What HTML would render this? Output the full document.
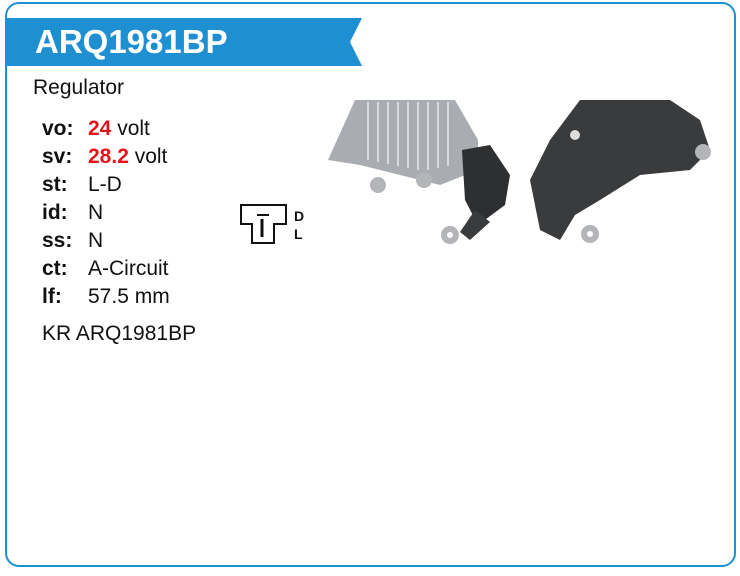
<!DOCTYPE html>
<html><head><style>
body{margin:0;background:#fff;width:740px;height:576px;position:relative;overflow:hidden;font-family:"Liberation Sans",sans-serif}
.frame{position:absolute;left:5px;top:2px;width:727px;height:561px;border:2px solid #1e8fd0;border-radius:14px}
.t{position:absolute;font-size:21px;color:#111}
.l{position:absolute;font-size:21px;font-weight:bold;color:#111;left:42px}
.v{position:absolute;font-size:21px;color:#111;left:88px}
.r{color:#e3141b;font-weight:bold}
</style></head><body>
<div class="frame"></div>
<svg style="position:absolute;left:0;top:0" width="740" height="576">
<polygon points="6,18 362,18 350,42 362,66 6,66" fill="#1e8fd0"/>
<text x="35" y="53" font-family="Liberation Sans" font-weight="bold" font-size="33" fill="#fff">ARQ1981BP</text>
<path d="M241,205 H286 V224 H274 V243 H252 V224 H241 Z" fill="none" stroke="#111" stroke-width="2"/>
<line x1="257" y1="215" x2="269" y2="215" stroke="#111" stroke-width="2"/>
<line x1="262" y1="219" x2="262" y2="237" stroke="#111" stroke-width="3"/>
<text x="294" y="221" font-family="Liberation Sans" font-weight="bold" font-size="14" fill="#111">D</text>
<text x="294" y="239" font-family="Liberation Sans" font-weight="bold" font-size="14" fill="#111">L</text>
<polygon points="355,100 455,100 478,140 478,170 440,185 400,175 360,165 328,160" fill="#a9acb0"/>
<g stroke="#d9dadb" stroke-width="2"><line x1="368" y1="102" x2="368" y2="160"/><line x1="378" y1="102" x2="378" y2="162"/><line x1="388" y1="102" x2="388" y2="164"/><line x1="398" y1="102" x2="398" y2="166"/><line x1="408" y1="102" x2="408" y2="168"/><line x1="418" y1="102" x2="418" y2="170"/><line x1="428" y1="102" x2="428" y2="170"/><line x1="438" y1="102" x2="438" y2="168"/><line x1="448" y1="102" x2="448" y2="166"/></g>
<polygon points="462,150 490,145 510,175 505,205 478,225 465,200" fill="#2e2f31"/>
<polygon points="475,210 490,222 470,240 460,232" fill="#3a3b3d"/>
<circle cx="450" cy="235" r="9" fill="#b3b5b8"/><circle cx="450" cy="235" r="3" fill="#fff"/>
<circle cx="378" cy="185" r="8" fill="#b3b5b8"/><circle cx="424" cy="180" r="8" fill="#b3b5b8"/>
<polygon points="580,100 670,100 700,120 710,150 690,170 640,175 600,200 575,215 560,240 540,230 530,180 550,140" fill="#3a3b3d"/>
<circle cx="575" cy="135" r="5" fill="#ddd"/>
<circle cx="590" cy="234" r="9" fill="#b3b5b8"/><circle cx="590" cy="234" r="3" fill="#fff"/>
<circle cx="703" cy="152" r="8" fill="#b3b5b8"/>
</svg>
<div class="t" style="left:33px;top:76px">Regulator</div>
<div class="l" style="top:117px">vo:</div><div class="v" style="top:117px"><span class="r">24</span> volt</div>
<div class="l" style="top:145px">sv:</div><div class="v" style="top:145px"><span class="r">28.2</span> volt</div>
<div class="l" style="top:173px">st:</div><div class="v" style="top:173px">L-D</div>
<div class="l" style="top:201px">id:</div><div class="v" style="top:201px">N</div>
<div class="l" style="top:229px">ss:</div><div class="v" style="top:229px">N</div>
<div class="l" style="top:257px">ct:</div><div class="v" style="top:257px">A-Circuit</div>
<div class="l" style="top:285px">lf:</div><div class="v" style="top:285px">57.5 mm</div>
<div class="t" style="left:42px;top:322px">KR ARQ1981BP</div>
</body></html>
